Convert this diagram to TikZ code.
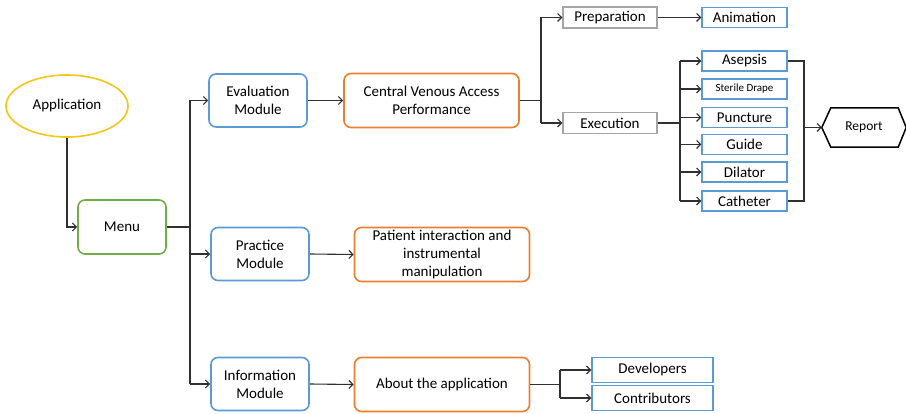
\documentclass[tikz,border=0pt]{standalone}
\usepackage{fontspec}
\setmainfont{Carlito}
\usetikzlibrary{arrows.meta,shapes.geometric}
\definecolor{cblue}{HTML}{5B9BD5}
\definecolor{corange}{HTML}{ED7D31}
\definecolor{cgreen}{HTML}{70AD47}
\definecolor{cyellow}{HTML}{F5C518}
\definecolor{cgray}{HTML}{A5A5A5}
\definecolor{cline}{HTML}{303030}
\tikzset{
  base/.style={draw, line width=1.6pt, align=center, inner sep=0pt, font=\fontsize{15}{18}\selectfont},
  rbox/.style={base, rounded corners=7pt, minimum width=#1},
  modbox/.style={rbox=98pt, draw=cblue, minimum height=53pt},
  obox/.style={rbox=175pt, draw=corange, minimum height=54pt},
  sbox/.style={base, draw=cblue, minimum width=85pt, minimum height=20pt, line width=1.4pt},
  gbox/.style={base, draw=cgray, minimum width=94pt, minimum height=21pt, line width=1.4pt},
  conn/.style={draw=cline, line width=1.1pt, -{Straight Barb[length=4pt,width=8pt]}},
  plain/.style={draw=cline, line width=1.1pt},
}
\begin{document}
\begin{tikzpicture}[x=1pt,y=-1pt]
\useasboundingbox (0,0) rectangle (906,414);
% nodes
\node[base, ellipse, draw=cyellow, minimum width=122pt, minimum height=62pt] (app) at (67,106) {Application};
\node[rbox=88pt, draw=cgreen, minimum height=54pt] (menu) at (122,227) {Menu};
\node[modbox] (eval) at (258,100.5) {Evaluation\\Module};
\node[modbox] (prac) at (260,254) {Practice\\Module};
\node[modbox] (info) at (260,384) {Information\\Module};
\node[obox] (cva) at (431.5,100.5) {Central Venous Access\\Performance};
\node[obox] (pat) at (442,254.5) {Patient interaction and\\instrumental\\manipulation};
\node[obox] (about) at (442,384.5) {About the application};
\node[gbox] (prep) at (610,17.5) {Preparation};
\node[gbox] (exec) at (610,123) {Execution};
\node[sbox] (anim) at (744.5,17.5) {Animation};
\node[sbox] (asep) at (744.5,61) {Asepsis};
\node[sbox, font=\fontsize{11}{12}\selectfont] (drape) at (744.5,89) {Sterile Drape};
\node[sbox] (punc) at (744.5,117.5) {Puncture};
\node[sbox] (guide) at (744.5,144.5) {Guide};
\node[sbox] (dil) at (744.5,172) {Dilator};
\node[sbox] (cath) at (744.5,201) {Catheter};
\node[sbox, minimum width=121pt, minimum height=25pt] (dev) at (652.5,370) {Developers};
\node[sbox, minimum width=121pt, minimum height=25pt] (contr) at (652.5,398) {Contributors};
\node[font=\fontsize{13.5}{16}\selectfont, inner sep=0pt, minimum width=84pt, minimum height=39pt] (rep) at (864,127.5) {Report};
\draw[line width=1.5pt, line join=miter] (rep.west) -- ([xshift=9pt]rep.north west) -- ([xshift=-8pt]rep.north east)
  -- (rep.east) -- ([xshift=-8pt]rep.south east) -- ([xshift=9pt]rep.south west) -- cycle;
% helper coordinates
\coordinate (m1) at (190,0);
\coordinate (c1) at (541,0);
\coordinate (e1) at (680,0);
\coordinate (r1) at (804,0);
\coordinate (a1) at (560,0);
% connectors
\draw[conn] (app.south) |- (menu.west);
\draw[plain] (menu.east) -| (m1 |- eval.west);
\draw[plain] (menu.east) -| (m1 |- info.west);
\draw[conn] (m1 |- eval.west) -- (eval.west);
\draw[conn] (m1 |- prac.west) -- (prac.west);
\draw[conn] (m1 |- info.west) -- (info.west);
\draw[conn] (eval.east) -- (cva.west);
\draw[conn] (prac.east) -- (pat.west);
\draw[conn] (info.east) -- (about.west);
% CVA branch
\draw[plain] (cva.east) -- (c1 |- cva.east);
\draw[plain] (c1 |- prep.west) -- (c1 |- exec.west);
\draw[conn] (c1 |- prep.west) -- (prep.west);
\draw[conn] (c1 |- exec.west) -- (exec.west);
\draw[conn] (prep.east) -- (anim.west);
% Execution branch
\draw[plain] (exec.east) -- (e1 |- exec.east);
\draw[plain] (e1 |- asep.west) -- (e1 |- cath.west);
\foreach \n in {asep,drape,punc,guide,dil,cath}
  \draw[conn] (e1 |- \n.west) -- (\n.west);
% to report
\draw[plain] (asep.east) -| (r1 |- cath.east) -- (cath.east);
\draw[conn] (r1 |- rep.west) -- (rep.west);
% about branch
\draw[plain] (about.east) -- (a1 |- about.east);
\draw[plain] (a1 |- dev.west) -- (a1 |- contr.west);
\draw[conn] (a1 |- dev.west) -- (dev.west);
\draw[conn] (a1 |- contr.west) -- (contr.west);
\end{tikzpicture}
\end{document}
